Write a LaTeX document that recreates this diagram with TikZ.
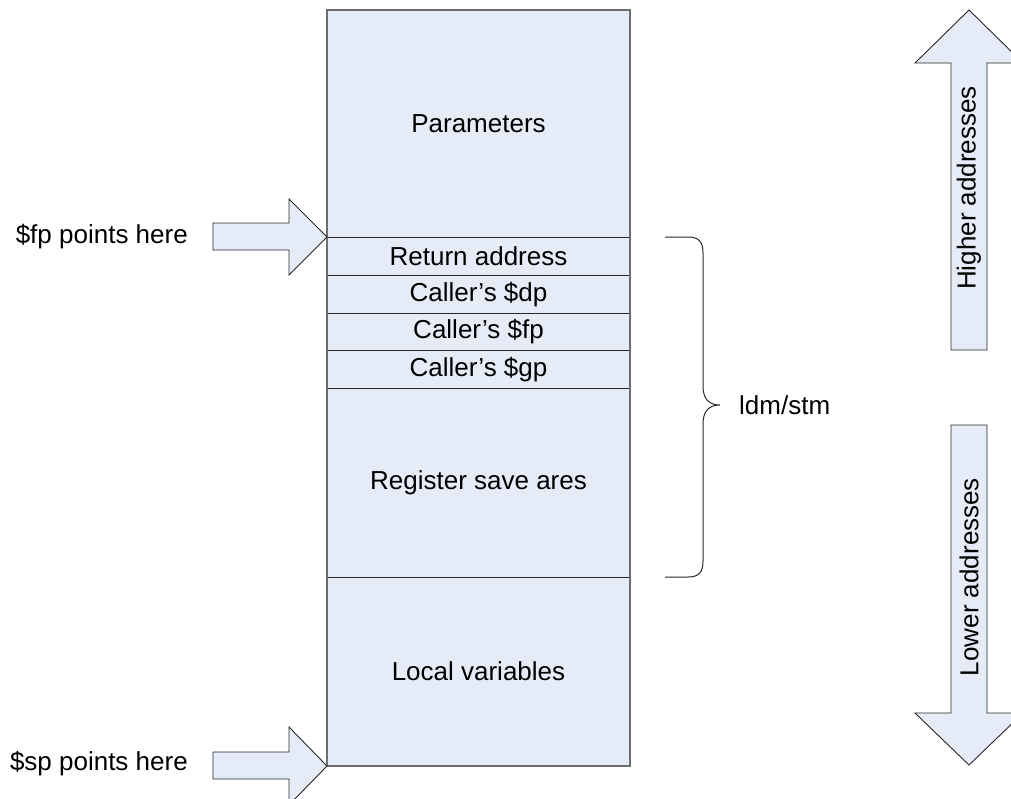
\documentclass[tikz,border=0pt]{standalone}
\usepackage{fontspec}
\setmainfont{Liberation Sans}
\definecolor{boxfill}{RGB}{230,236,247}
\definecolor{edgegray}{RGB}{110,110,112}
\definecolor{linedark}{RGB}{40,40,40}
\newcommand{\fsz}{\fontsize{26}{30}\selectfont}
\begin{document}
\begin{tikzpicture}[x=1pt,y=-1pt,
  cell/.style={draw=linedark, line width=1pt, fill=boxfill, minimum width=302pt, anchor=north west, inner sep=0pt, font=\fsz},
  bigarrow/.style={draw=linedark, line width=0.9pt, fill=boxfill, line join=miter},
  lab/.style={font=\fsz, inner sep=0pt}]
\clip (0,0) rectangle (1011,798);
\fill[white] (0,0) rectangle (1011,798);
% stack cells
\node[cell, minimum height=227pt] (par) at (327,10) {Parameters};
\node[cell, minimum height=38pt] (ret) at (327,237) {Return address};
\node[cell, minimum height=38pt] (cdp) at (327,275) {Caller’s \$dp};
\node[cell, minimum height=37pt] (cfp) at (327,313) {Caller’s \$fp};
\node[cell, minimum height=38pt] (cgp) at (327,350) {Caller’s \$gp};
\node[cell, minimum height=189pt] (reg) at (327,388) {Register save ares};
\node[cell, minimum height=188pt] (loc) at (327,577) {Local variables};
\draw[edgegray, line width=1.6pt] (par.north west) rectangle (loc.south east);
% pointer arrows
\coordinate (fptip) at (ret.north west);
\coordinate (sptip) at (loc.south west);
\draw[bigarrow] (213,223) -- (289,223) -- (289,199) -- (fptip) -- (289,275) -- (289,250) -- (213,250) -- cycle;
\draw[bigarrow] (213,752) -- (289,752) -- (289,727) -- (sptip) -- (289,805) -- (289,779) -- (213,779) -- cycle;
\node[lab, anchor=east] (fplab) at (188,237) {\$fp points here};
\node[lab, anchor=east] (splab) at (188,764) {\$sp points here};
% brace
\coordinate (bt) at (720,405);
\draw[linedark, line width=1pt] (665,237) -- (688,237) .. controls (699,237) and (703,242) .. (703,253) -- (703,386) .. controls (703,399) and (709,405) .. (bt) .. controls (709,405) and (703,411) .. (703,424) -- (703,561) .. controls (703,572) and (699,577) .. (688,577) -- (665,577);
\node[lab, anchor=west] (ldm) at (739,405) {ldm/stm};
% address arrows
\draw[bigarrow] (951,350) -- (951,63) -- (915,63) -- (969,10) -- (1023,63) -- (987,63) -- (987,350) -- cycle;
\draw[bigarrow] (951,425) -- (987,425) -- (987,713) -- (1023,713) -- (969,765) -- (915,713) -- (951,713) -- cycle;
\node[lab, rotate=90] (hi) at (969,188) {Higher addresses};
\node[lab, rotate=90] (lo) at (969,577) {Lower addresses};
\end{tikzpicture}
\end{document}
